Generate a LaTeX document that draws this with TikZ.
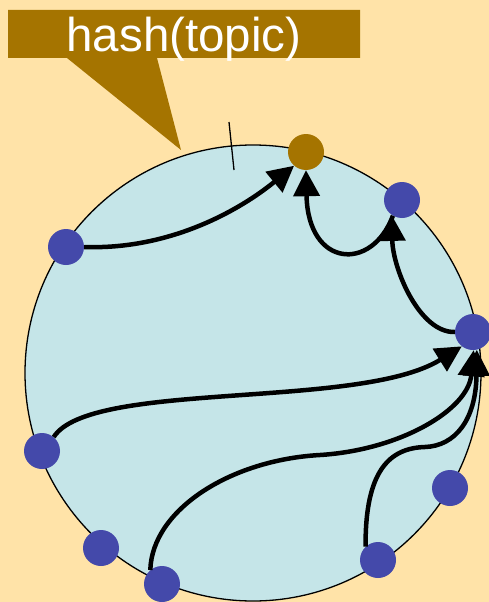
\documentclass[tikz,border=0pt]{standalone}
\usepackage{fontspec}
\setmainfont{Liberation Sans}
\usetikzlibrary{arrows.meta}
\definecolor{bg}{RGB}{255,227,168}
\definecolor{ring}{RGB}{197,229,232}
\definecolor{gold}{RGB}{165,116,0}
\definecolor{dot}{RGB}{68,73,170}
\begin{document}
\begin{tikzpicture}[x=1pt,y=-1pt,
  dotn/.style={circle, fill=dot, minimum size=36pt, inner sep=0pt},
  topicn/.style={circle, fill=gold, minimum size=36pt, inner sep=0pt},
  arr/.style={line width=4.5pt, -{Triangle[length=26pt,width=26pt]}},
  label/.style={text=white, font=\fontsize{47.5}{50}\selectfont, inner sep=0pt, anchor=base}]
\fill[bg] (0,0) rectangle (489,602);
\useasboundingbox (0,0) rectangle (489,602);
% ring
\filldraw[fill=ring, draw=black, line width=1.3pt] (253,373) circle[radius=228pt];
% callout
\fill[gold] (8,10) -- (360,10) -- (360,58) -- (157,58) -- (181,150) -- (67,58) -- (8,58) -- cycle;
\node[label] (lbl) at (184,52) {hash(topic)};
% tick
\draw[line width=1.3pt] (229,122) -- (234,170);
% nodes
\node[topicn] (tp) at (306,152) {};
\node[dotn] (a) at (402,200) {};
\node[dotn] (b) at (473,332) {};
\node[dotn] (c) at (66,247) {};
\node[dotn] (d) at (42,451) {};
\node[dotn] (e) at (101,548) {};
\node[dotn] (f) at (162,584) {};
\node[dotn] (g) at (378,560) {};
\node[dotn] (h) at (450,488) {};
% arrows
\draw[arr] (c.east) .. controls (170,250) and (240,210) .. (tp.229);
\draw[arr] (a.240) .. controls (372,272) and (308,268) .. (tp.south);
\draw[arr] (b.west) .. controls (420,333) and (393,270) .. (a.235);
\draw[arr] (d.50) .. controls (90,380) and (360,410) .. (b.232);
\draw[arr] (f.130) .. controls (152,510) and (230,460) .. (320,455)
  .. controls (400,450) and (468,410) .. (b.272);
\draw[arr] (g.133) .. controls (365,470) and (390,448) .. (425,447)
  .. controls (455,446) and (476,420) .. (b.282);
\end{tikzpicture}
\end{document}
